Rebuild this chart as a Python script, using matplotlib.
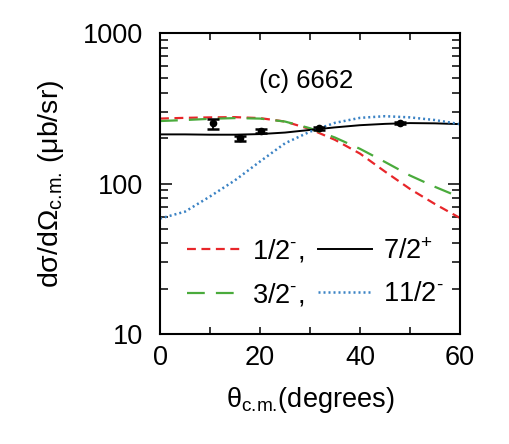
import numpy as np
import matplotlib
matplotlib.use("Agg")
import matplotlib.pyplot as plt
from matplotlib.ticker import LogLocator, MultipleLocator, NullFormatter

plt.rcParams['font.family'] = ['Liberation Sans', 'DejaVu Sans']
plt.rcParams['mathtext.fontset'] = 'custom'
plt.rcParams['mathtext.rm'] = 'Liberation Sans'
plt.rcParams['mathtext.it'] = 'Liberation Sans:italic'
plt.rcParams['mathtext.bf'] = 'Liberation Sans:bold'

# curve values (every 5 degrees)
theta = [0, 5, 10, 15, 20, 25, 30, 35, 40, 45, 50, 55, 60]
half_minus = [270, 273, 275, 276, 272, 258, 230, 195, 158, 120, 92, 73, 59]
three_half_minus = [260, 264, 269, 272, 270, 258, 233, 202, 170, 139, 113, 95, 81]
seven_half_plus = [212, 212, 211, 211, 213, 218, 227, 236, 244, 249, 252, 251, 248]
eleven_half_minus = [58.5, 65, 82, 105, 140, 185, 221, 253, 273, 280, 275, 264, 248]

# measured points
exp_theta = [10.5, 15.9, 20.2, 31.8, 48.0]
exp_xs = [251, 200, 223, 233, 253]
exp_err_lo = [21, 8, 7, 5, 4]
exp_err_hi = [17, 8, 7, 5, 4]

labels = [r'1/2$^{\text{-}}$,', r'3/2$^{\text{-}}$,', r'7/2$^{\text{+}}$', r'11/2$^{\text{-}}$']

fig = plt.figure(figsize=(5.09, 4.44), dpi=100)
ax = fig.add_axes([160/509, 1 - 334/444, 300/509, 301/444])

ax.plot(theta, half_minus, color='#e8262a', lw=1.6, dashes=(4, 2.5), label=labels[0])
ax.plot(theta, three_half_minus, color='#4aab3c', lw=1.6, dashes=(8, 5), label=labels[1])
ax.plot(theta, seven_half_plus, color='black', lw=1.4, label=labels[2])
ax.plot(theta, eleven_half_minus, color='#3a82c4', lw=1.8, dashes=(0.8, 1.2), label=labels[3])

ax.errorbar(exp_theta, exp_xs, yerr=[exp_err_lo, exp_err_hi], fmt='o', color='black',
            ms=4.5, capsize=4.5, capthick=1.8, elinewidth=1.3)

ax.set_yscale('log')
ax.set_xlim(0, 60)
ax.set_ylim(10, 1000)
ax.xaxis.set_major_locator(MultipleLocator(20))
ax.xaxis.set_minor_locator(MultipleLocator(10))
ax.yaxis.set_minor_locator(LogLocator(base=10, subs=np.arange(2, 10), numticks=20))
ax.yaxis.set_minor_formatter(NullFormatter())
ax.set_yticks([10, 100, 1000])
ax.set_yticklabels(['10', '100', '1000'])

ax.tick_params(which='both', direction='in', top=True, right=True, width=1.1)
ax.tick_params(axis='x', which='both', length=5, labelsize=19.5, pad=8)
ax.tick_params(axis='y', which='major', length=8.5, labelsize=19.5, pad=12)
ax.tick_params(axis='y', which='minor', length=5.5)
for s in ax.spines.values():
    s.set_linewidth(1.5)

ax.set_xlabel(r'θ$_{\text{c.m.}}$(degrees)', fontsize=19.5, labelpad=10)
ax.set_ylabel(r'dσ/dΩ$_{\text{c.m.}}$ (μb/sr)', fontsize=20.5, labelpad=12)

ax.text(0.488, 0.84, '(c) 6662', transform=ax.transAxes, ha='center', va='center',
        fontsize=18.5)

ax.legend(ncol=2, frameon=False, loc='upper left', bbox_to_anchor=(0.09, 0.32),
          fontsize=19.5, handlelength=2.0, handletextpad=0.4, columnspacing=0.5,
          labelspacing=0.62, borderpad=0, borderaxespad=0)

fig.savefig('out.png', dpi=100)
